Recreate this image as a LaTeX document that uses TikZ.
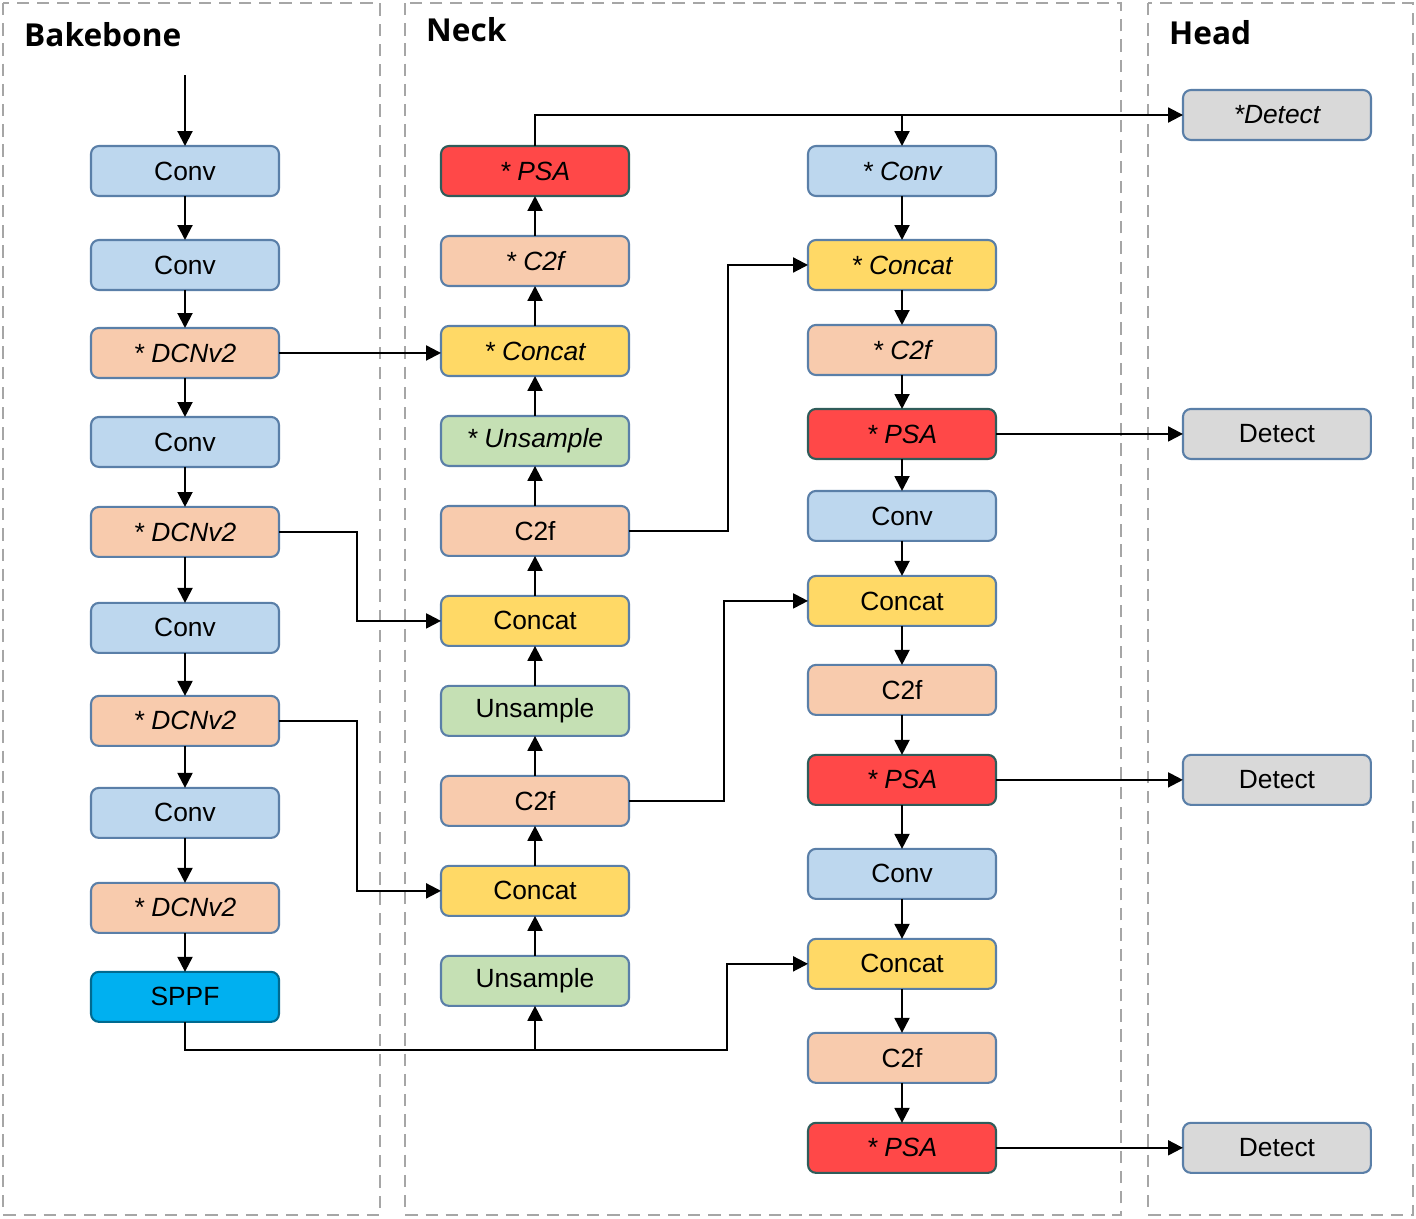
\documentclass[tikz,border=0pt]{standalone}
\usepackage{fontspec}
\setmainfont{Liberation Sans}
\newfontfamily\titlefont{Open Sans}
\usetikzlibrary{arrows.meta,positioning,calc}
\definecolor{convblue}{HTML}{BDD7EE}
\definecolor{peach}{HTML}{F8CBAD}
\definecolor{catyellow}{HTML}{FFD966}
\definecolor{upgreen}{HTML}{C5E0B4}
\definecolor{psared}{HTML}{FF4848}
\definecolor{sppfblue}{HTML}{00B0F0}
\definecolor{detgray}{HTML}{D9D9D9}
\definecolor{edgeblue}{HTML}{5A7FA8}
\definecolor{edgeteal}{HTML}{2F5C5A}
\definecolor{panelgray}{gray}{0.65}

\begin{document}
\begin{tikzpicture}[
  x=0.02cm, y=-0.02cm,
  node distance=0.8cm,
  box/.style={draw=edgeblue, line width=1.2pt, rounded corners=4.5pt, minimum width=3.76cm, minimum height=1cm, inner sep=0pt, outer sep=0pt, font=\fontsize{15}{18}\selectfont, fill=#1},
  ibox/.style={box=#1, font=\fontsize{15}{18}\selectfont\itshape},
  pbox/.style={ibox=psared, draw=edgeteal},
  arr/.style={-{Triangle[length=8.5pt,width=8.5pt]}, line width=1.2pt},
  panel/.style={draw=panelgray, line width=1pt, dash pattern=on 7pt off 4.5pt},
  title/.style={anchor=west, font=\titlefont\bfseries\fontsize{18}{22}\selectfont},
]
  \useasboundingbox (0,0) rectangle (1416,1218);

  % panels
  \draw[panel] (3,3) rectangle (380,1215);
  \draw[panel] (405,3) rectangle (1121,1215);
  \draw[panel] (1148,3) rectangle (1413,1215);
  \node[title] (tback) at (18,35) {Bakebone};
  \node[title] (tneck) at (420,30) {Neck};
  \node[title] (thead) at (1163,33) {Head};

  % backbone
  \node[box=convblue] (convA) at (185,171) {Conv};
  \node[box=convblue, below=0.88cm of convA] (convB) {Conv};
  \node[ibox=peach, below=0.76cm of convB] (dcnA) {* DCNv2};
  \node[box=convblue, below=0.78cm of dcnA] (convC) {Conv};
  \node[ibox=peach, below=0.8cm of convC] (dcnB) {* DCNv2};
  \node[box=convblue, below=0.92cm of dcnB] (convD) {Conv};
  \node[ibox=peach, below=0.86cm of convD] (dcnC) {* DCNv2};
  \node[box=convblue, below=0.84cm of dcnC] (convE) {Conv};
  \node[ibox=peach, below=0.9cm of convE] (dcnD) {* DCNv2};
  \node[box=sppfblue, draw=sppfblue!60!black, below=0.78cm of dcnD] (sppf) {SPPF};

  % neck, upward column
  \node[pbox] (psaT) at (535,171) {* PSA};
  \node[ibox=peach, below=of psaT] (c2fT) {* C2f};
  \node[ibox=catyellow, below=of c2fT] (catT) {* Concat};
  \node[ibox=upgreen, below=of catT] (upT) {* Unsample};
  \node[box=peach, below=of upT] (c2fM) {C2f};
  \node[box=catyellow, below=of c2fM] (catM) {Concat};
  \node[box=upgreen, below=of catM] (upM) {Unsample};
  \node[box=peach, below=of upM] (c2fL) {C2f};
  \node[box=catyellow, below=of c2fL] (catL) {Concat};
  \node[box=upgreen, below=of catL] (upL) {Unsample};

  % neck, downward column
  \node[ibox=convblue] (convP) at (902,171) {* Conv};
  \node[ibox=catyellow, below=0.88cm of convP] (catP) {* Concat};
  \node[ibox=peach, below=0.7cm of catP] (c2fP) {* C2f};
  \node[pbox, below=0.68cm of c2fP] (psaP) {* PSA};
  \node[box=convblue, below=0.64cm of psaP] (convQ) {Conv};
  \node[box=catyellow, below=0.7cm of convQ] (catQ) {Concat};
  \node[box=peach, below=0.78cm of catQ] (c2fQ) {C2f};
  \node[pbox, below=0.8cm of c2fQ] (psaQ) {* PSA};
  \node[box=convblue, below=0.88cm of psaQ] (convR) {Conv};
  \node[box=catyellow, below=0.8cm of convR] (catR) {Concat};
  \node[box=peach, below=0.88cm of catR] (c2fR) {C2f};
  \node[pbox, below=0.8cm of c2fR] (psaR) {* PSA};

  % head
  \node[ibox=detgray] (detT) at (1277,115) {*Detect};
  \node[box=detgray, right=3.74cm of psaP] (detP) {Detect};
  \node[box=detgray, right=3.74cm of psaQ] (detQ) {Detect};
  \node[box=detgray, right=3.74cm of psaR] (detR) {Detect};

  % backbone flow
  \coordinate (input) at (185,75);
  \draw[arr] (input) -- (convA);
  \draw[arr] (convA) -- (convB);
  \draw[arr] (convB) -- (dcnA);
  \draw[arr] (dcnA) -- (convC);
  \draw[arr] (convC) -- (dcnB);
  \draw[arr] (dcnB) -- (convD);
  \draw[arr] (convD) -- (dcnC);
  \draw[arr] (dcnC) -- (convE);
  \draw[arr] (convE) -- (dcnD);
  \draw[arr] (dcnD) -- (sppf);

  % neck upward flow
  \draw[arr] (upL) -- (catL);
  \draw[arr] (catL) -- (c2fL);
  \draw[arr] (c2fL) -- (upM);
  \draw[arr] (upM) -- (catM);
  \draw[arr] (catM) -- (c2fM);
  \draw[arr] (c2fM) -- (upT);
  \draw[arr] (upT) -- (catT);
  \draw[arr] (catT) -- (c2fT);
  \draw[arr] (c2fT) -- (psaT);

  % neck downward flow
  \draw[arr] (convP) -- (catP);
  \draw[arr] (catP) -- (c2fP);
  \draw[arr] (c2fP) -- (psaP);
  \draw[arr] (psaP) -- (convQ);
  \draw[arr] (convQ) -- (catQ);
  \draw[arr] (catQ) -- (c2fQ);
  \draw[arr] (c2fQ) -- (psaQ);
  \draw[arr] (psaQ) -- (convR);
  \draw[arr] (convR) -- (catR);
  \draw[arr] (catR) -- (c2fR);
  \draw[arr] (c2fR) -- (psaR);

  % skip links
  \draw[arr] (dcnA.east) -- (dcnA.east -| catT.west);
  \draw[arr] (dcnB.east) -- ++(78,0) |- (catM.west);
  \draw[arr] (dcnC.east) -- ++(78,0) |- (catL.west);
  \coordinate (sppfbus) at (727,1050);
  \draw[arr] (sppf.south) |- (sppfbus) |- (catR.west);
  \draw[arr] (upL.south |- sppfbus) -- (upL.south);
  \draw[arr] (c2fM.east) -- ++(99,0) |- (catP.west);
  \draw[arr] (c2fL.east) -- ++(95,0) |- (catQ.west);
  \draw[arr] (psaT.north) |- (detT.west);
  \draw[arr] (convP.north |- detT.west) -- (convP.north);

  % outputs
  \draw[arr] (psaP) -- (detP);
  \draw[arr] (psaQ) -- (detQ);
  \draw[arr] (psaR) -- (detR);
\end{tikzpicture}
\end{document}
